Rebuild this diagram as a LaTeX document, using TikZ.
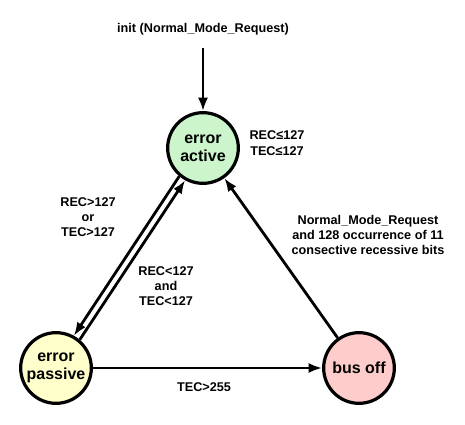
\documentclass[tikz,border=0pt]{standalone}
\usepackage{fontspec}
\setmainfont{Liberation Sans}
\usetikzlibrary{arrows.meta}
\definecolor{activegreen}{HTML}{CCF5CC}
\definecolor{passiveyellow}{HTML}{FFFFCC}
\definecolor{busoffred}{HTML}{FFCCCC}
\tikzset{
  state/.style={circle, draw, line width=2.4pt, minimum size=53pt, inner sep=0pt,
    align=center, font=\fontsize{12}{13.5}\selectfont\bfseries},
  cond/.style={align=center, font=\fontsize{9.5}{11.5}\selectfont\bfseries},
  trans/.style={line width=2.1pt, -{Latex[length=10pt,width=7.5pt]}}
}
\begin{document}
\begin{tikzpicture}[x=0.75pt,y=-0.75pt]
      \useasboundingbox (0,0) rectangle (465,425);
      \draw
        (203,148) node[state,fill=activegreen] (active){error\\active}
        (56,368) node[state,fill=passiveyellow] (passive){error\\passive}
        (359,368) node[state,fill=busoffred] (busoff){bus off};
      \coordinate (start) at (203,48);
      \node[cond] (initlbl) at (203,29) {init (Normal\_Mode\_Request)};
      \node[cond] (okcond) at (277,143) {REC≤127\\TEC≤127};
      \node[cond] (topassive) at (88,217) {REC>127\\or\\TEC>127};
      \node[cond] (toactive) at (166,286) {REC<127\\and\\TEC<127};
      \node[cond] (recover) at (368,235) {Normal\_Mode\_Request\\and 128 occurrence of 11\\consective recessive bits};
      \node[cond] (tobusoff) at (204,387) {TEC>255};
      \begin{scope}[trans]
        \draw (start) to (active);
        \draw (active.230.5) to (passive.61.4);
        \draw (passive.50.8) to (active.241.7);
        \draw (passive) to (busoff);
        \draw (busoff) to (active);
      \end{scope}
    \end{tikzpicture}
\end{document}
